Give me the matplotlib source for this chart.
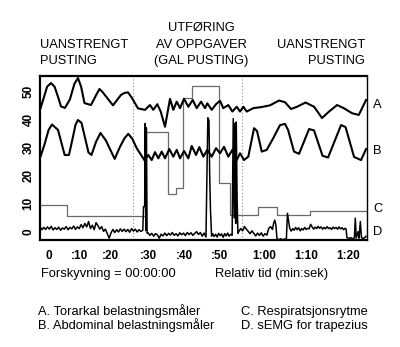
import matplotlib
matplotlib.use("Agg")
import matplotlib.pyplot as plt

plt.rcParams['font.family'] = ['Liberation Sans', 'DejaVu Sans']

# ---------------- data (time in seconds, value in chart units) ----------------
a_t = [-2.22, -1.3, -0.5, 0.54, 1.5, 2.4, 3.21, 4.28, 5.6, 6.8, 7.76, 8.6, 9.50, 11.24,
       12.6, 13.51, 14.4, 17.13, 19.27, 20.2, 21.14, 22.2, 23.82,
       25.69, 27.03, 27.91, 28.98, 29.89, 31.04, 32.38, 33.26, 34.17, 35.06, 36.13,
       37.28, 38.45, 39.52, 40.68, 41.75, 42.36, 43.54, 44.69, 45.76, 46.64, 47.98,
       49.05, 50.23, 51.11, 51.99, 52.90, 54.67, 56.92, 59.14, 61.55, 63.15, 64.76,
       66.36, 68.64, 70.91, 73.05, 74.93, 77.07, 78.86, 81.08, 82.88, 84.83]
a_v = [44.0, 48.0, 51.5, 52.8, 51.5, 48.0, 44.5, 44.0, 47.0, 52.5, 54.6, 51.5, 45.7, 45.0,
       48.5, 50.7, 49.5, 44.9, 48.6, 49.3, 49.5, 47.5, 43.8,
       43.3, 45.0, 43.3, 45.3, 42.7, 37.3, 47.2, 43.3, 46.2, 43.9, 47.2,
       44.4, 46.8, 43.9, 46.2, 43.9, 45.6, 43.3, 45.3, 46.5, 43.9, 45.0,
       42.7, 44.4, 42.7, 44.4, 42.7, 43.9, 44.3, 44.9, 46.6, 46.0, 43.6,
       44.4, 45.9, 44.4, 40.4, 42.7, 45.0, 43.9, 42.1, 41.5, 46.8]

b_t = [-2.22, -1.2, -0.1, 0.80, 2.41, 4.20, 5.35, 6.3, 7.1, 7.76, 8.70, 10.57, 11.37,
       12.6, 13.78, 15.2, 17.58, 19.00, 20.2,
       21.22, 22.3, 23.47, 25.56, 26.57, 27.48, 28.37, 29.25, 30.16, 31.04, 32.19, 33.26,
       34.17, 35.06, 36.13, 37.28, 38.19, 39.34, 40.22, 41.29, 42.36, 43.54, 44.69,
       45.76, 46.83, 47.98, 49.05, 50.23, 51.11, 52.18, 53.33, 54.86, 55.66, 56.92,
       58.25, 60.02, 61.81, 63.15, 63.96, 65.56, 66.90, 69.58, 70.91, 73.19, 74.66,
       78.14, 79.34, 81.62, 83.49, 84.83]
b_v = [26.9, 31.0, 36.2, 38.1, 36.2, 27.3, 27.3, 33.0, 38.0, 39.7, 38.7, 28.2, 27.3,
       32.0, 35.1, 32.5, 25.9, 30.2, 33.2,
       34.8, 33.0, 29.7, 25.4, 27.3, 25.5, 28.3, 26.1, 28.5, 26.1, 29.4, 26.7,
       29.1, 26.1, 28.7, 26.1, 30.5, 27.3, 30.1, 26.7, 29.1, 26.7, 29.7,
       27.9, 30.2, 26.7, 29.1, 25.5, 27.9, 25.5, 26.7, 36.8, 35.8, 28.5,
       29.1, 33.3, 37.9, 38.3, 36.2, 28.5, 27.7, 36.5, 36.0, 27.0, 26.4,
       37.9, 37.2, 26.6, 25.5, 29.4]

c_t = [-2.4, 4.82, 25.96, 31.84, 33.98, 35.94, 38.27, 45.57, 48.35, 56.01, 61.09, 69.76, 84.83]
c_v = [9.4, 5.6, 35.3, 13.4, 15.5, 47.4, 51.6, 17.3, 6.0, 8.8, 6.0, 7.3, 7.3]

d_t = [-2.4, -1.9, -1.4, -0.9, -0.4, 0.1, 0.6, 1.1, 1.6, 2.1, 2.6, 3.1, 3.6, 4.1, 4.6,
       5.1, 5.6, 6.1, 6.6, 7.1, 7.6, 8.1, 8.6, 9.1, 9.6, 10.1, 10.6, 11.1, 11.6, 12.1,
       12.6, 13.1, 13.6, 14.1, 14.6, 15.1, 15.6, 16.1, 16.6, 17.1, 17.6, 18.1, 18.6,
       19.1, 19.6, 20.1, 20.6, 21.1, 21.6, 22.1, 22.6, 23.1, 23.6, 24.1, 24.6, 25.1,
       25.3, 25.6, 25.75, 25.9, 26.05, 26.25,
       26.5, 27.0, 27.5, 28.0, 28.5, 29.0, 29.5, 30.0, 30.5, 31.0, 31.5, 32.0, 32.5,
       33.0, 33.5, 34.0, 34.5, 35.0, 35.5, 36.0, 36.5, 37.0, 37.5, 38.0, 38.5, 39.0,
       39.5, 40.0, 40.5, 41.0, 41.5, 42.0,
       42.5, 42.8, 43.0, 43.2, 43.5,
       43.8, 44.2, 44.6, 45.0, 45.4, 45.8, 46.2, 46.6, 47.0, 47.4, 47.8, 48.2, 48.6, 49.0,
       49.3, 49.55, 49.75, 49.95, 50.1, 50.35, 50.55,
       50.8, 51.3, 51.8, 52.3, 52.8, 53.3, 53.8, 54.3, 54.8, 55.3, 55.8, 56.3, 56.8,
       57.3, 57.8, 58.3, 58.8, 59.3, 59.8, 60.1, 60.4, 60.7, 61.0,
       61.5, 62.0, 62.5, 63.0, 63.5, 63.8, 64.1, 64.4,
       64.8, 65.2, 65.6, 66.0, 66.4, 66.8, 67.2, 67.6, 68.0, 68.4, 68.8, 69.2, 69.6,
       70.0, 70.4,
       70.8, 71.2, 71.6, 72.0, 72.4, 72.8, 73.2, 73.6, 74.0, 74.4, 74.8, 75.2, 75.6,
       76.0, 76.4, 76.8, 77.2, 77.6, 78.0, 78.4, 78.8, 79.2, 79.5,
       79.7, 80.2, 80.7, 81.2, 81.7, 81.95, 82.2, 82.7, 82.95, 83.3, 83.6, 84.0, 84.5, 84.8]
d_v = [1.9, 0.8, 1.6, 0.9, 1.8, 1.0, 2.0, 0.7, 1.5, 0.9, 1.7, 0.6, 1.4, 1.0, 1.9,
       0.8, 1.6, 1.1, 2.1, 0.9, 1.8, 1.2, 2.6, 1.5, 3.0, 1.8, 3.7, 1.2, 2.4, 0.8,
       3.3, 2.2, 1.0, 1.9, 0.2, 1.0, -0.6, -2.2, -0.3, 0.9, -0.2, 0.8, 0.0,
       1.1, 0.2, 1.0, 0.1, 0.9, -0.1, 1.2, 0.3, 1.0, 0.0, 0.8, 0.2, 0.6,
       9.0, 9.0, 38.5, 0.5, 37.0, -0.5,
       -0.3, -1.2, -0.5, -1.5, -0.6, -1.0, -2.2, -0.8, -1.4, -0.4, -1.3, -0.5, -1.1,
       -0.2, -1.2, -0.6, -1.4, -0.3, -1.0, -0.4, -1.3, -0.2, -0.9, -0.3, -1.2, -0.5,
       0.1, -0.9, -0.2, -1.5, -0.4, -1.8,
       40.5, 39.5, 20.0, 8.0, -1.5,
       -0.6, -1.6, -0.8, -1.8, -0.5, -1.3, -0.7, -1.9, -0.6, -1.4, -0.4, -1.5, -0.8, -1.2,
       40.2, 5.0, 38.5, 3.0, 39.0, 10.0, -0.5,
       0.2, 1.2, 0.4, 1.9, 1.0, 0.2, -0.6, 0.4, -0.5, -1.4, -0.4, -1.2, -0.3,
       -1.5, -0.6, -1.1, 1.3, 1.9, 0.9, 3.1, 4.2, 2.5, -2.5,
       -2.7, -2.4, -2.8, -2.5, -2.7, 6.6, 4.0, 1.3,
       0.3, 1.2, 0.6, 1.6, 0.8, 1.5, 0.4, 1.2, 0.7, 1.6, 0.9, 1.3, 1.1,
       2.7, 1.8,
       1.0, 1.7, 1.2, 2.0, 1.3, 1.8, 1.0, 1.6, 1.1, 1.9, 1.2, 1.5, 0.9,
       1.7, 1.2, 1.6, 1.0, 1.8, 1.1, 1.5, 0.8, 1.3, 1.0,
       -2.0, -2.3, -2.0, -2.4, -2.1, 4.9, -2.2, 0.1, -2.2, 3.7, -2.0, -2.3, -2.0, -1.5]

tick_pos = [0, 8.1, 16.5, 26.6, 36.2, 45.6, 57.6, 68.8, 80.1]
tick_labels = ['0', ':10', ':20', ':30', ':40', ':50', '1:00', '1:10', '1:20']
y_ticks = [0, 10, 20, 30, 40, 50]
phase_marks = [22.5, 51.6]
series_names = ['A', 'B', 'C', 'D']
series_label_values = [44.0, 27.8, 7.0, -1.2]

# ---------------- figure ----------------
W, H = 400, 347
fig = plt.figure(figsize=(W / 100, H / 100), dpi=100)
ax = fig.add_axes([40 / W, 1 - 240 / H, 326.7 / W, 164 / H])

for x in phase_marks:
    ax.axvline(x, color='#8a8a8a', linestyle=(0, (1, 2)), linewidth=0.8, zorder=1)

ax.step(c_t, c_v, where='post', color='#6a6a6a', linewidth=0.9, zorder=2)
ax.plot(d_t, d_v, color='black', linewidth=1.1, zorder=3)
ax.plot(a_t, a_v, color='black', linewidth=1.5, zorder=4, solid_joinstyle='round')
ax.plot(b_t, b_v, color='black', linewidth=1.5, zorder=4, solid_joinstyle='round')

ax.set_xlim(-2.4, 85.0)
ax.set_ylim(-2.85, 55.3)

ax.set_xticks(tick_pos, tick_labels)
ax.set_yticks(y_ticks, [str(v) for v in y_ticks])
ax.tick_params(axis='both', length=0)
ax.tick_params(axis='x', pad=7.5, labelsize=8.5)
ax.tick_params(axis='y', pad=4, labelsize=8.5, labelrotation=90)
for lab in ax.get_xticklabels() + ax.get_yticklabels():
    lab.set_fontweight('bold')
for lab in ax.get_yticklabels():
    lab.set_va('center')

for side in ['left', 'top', 'bottom']:
    ax.spines[side].set_linewidth(1.6)
ax.spines['right'].set_linewidth(1.0)

# series letters at right
for name, v in zip(series_names, series_label_values):
    ax.text(1.02, v, name, transform=ax.get_yaxis_transform(), ha='left',
            va='baseline', fontsize=9.3, clip_on=False)

def ftext(x, y, s, **kw):
    fig.text(x / W, 1 - y / H, s, fontsize=9.3, va='baseline', **kw)

# header
ftext(40, 48, 'UANSTRENGT', ha='left')
ftext(40, 64, 'PUSTING', ha='left')
ftext(201, 30.6, 'UTFØRING', ha='center')
ftext(201, 48, 'AV OPPGAVER', ha='center')
ftext(201, 64, '(GAL PUSTING)', ha='center')
ftext(365, 48, 'UANSTRENGT', ha='right')
ftext(365, 64, 'PUSTING', ha='right')

# footer
ftext(40.7, 277.3, 'Forskyvning = 00:00:00', ha='left')
ftext(215, 277.3, 'Relativ tid (min:sek)', ha='left')
ftext(38.3, 314.6, 'A. Torarkal belastningsmåler', ha='left')
ftext(38.3, 328.9, 'B. Abdominal belastningsmåler', ha='left')
ftext(240.7, 314.6, 'C. Respiratsjonsrytme', ha='left')
ftext(240.7, 328.9, 'D. sEMG for trapezius', ha='left')

fig.savefig('out.png', dpi=100)
